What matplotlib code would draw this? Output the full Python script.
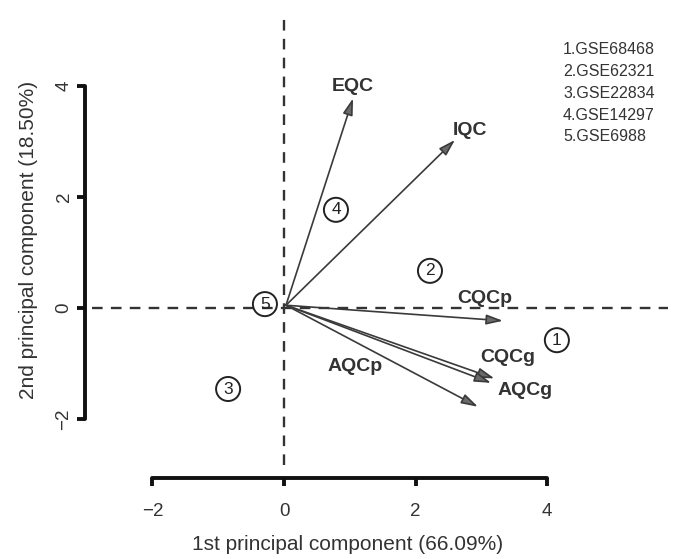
import matplotlib
matplotlib.use("Agg")
import matplotlib.pyplot as plt

plt.rcParams['font.family'] = ['Liberation Sans', 'DejaVu Sans']

# Loadings (arrows)
var_names = ["EQC", "IQC", "CQCp", "CQCg", "AQCg", "AQCp"]
var_x = [1.05, 2.60, 3.33, 3.20, 3.15, 2.95]
var_y = [3.78, 3.03, -0.23, -1.27, -1.35, -1.78]
label_x = [1.04, 2.83, 3.05, 3.40, 3.66, 1.08]
label_y = [4.00, 3.20, 0.18, -0.90, -1.48, -1.06]
origin = (0.03, 0.05)

# Datasets (scores)
obs_labels = ["1", "2", "3", "4", "5"]
obs_x = [4.15, 2.22, -0.85, 0.79, -0.29]
obs_y = [-0.58, 0.67, -1.46, 1.77, 0.07]
legend_lines = ["1.GSE68468", "2.GSE62321", "3.GSE22834", "4.GSE14297", "5.GSE6988"]

ticks = [-2, 0, 2, 4]

W, H = 676, 559
fig = plt.figure(figsize=(W / 100, H / 100), dpi=100)
ax = fig.add_axes([92 / W, 1 - 465 / H, (668 - 92) / W, (465 - 14) / H])
ax.set_xlim(-2.92, 5.84)
ax.set_ylim(-2.83, 5.30)

dark = '#222222'
ax.axhline(0, color='#333333', lw=1.7, ls=(0, (4.5, 3.5)), zorder=1)
ax.axvline(0, color='#333333', lw=1.7, ls=(0, (4.5, 3.5)), zorder=1)

for name, x, y, lx, ly in zip(var_names, var_x, var_y, label_x, label_y):
    ax.annotate("", xy=(x, y), xytext=origin,
                arrowprops=dict(arrowstyle='-|>,head_length=1.0,head_width=0.3',
                                ec='#3a3a3a', fc='#6a6a6a', lw=1.2,
                                shrinkA=0, shrinkB=0),
                zorder=3)
    ax.text(lx, ly, name, ha='center', va='center', fontsize=14,
            fontweight='bold', color='#333333', zorder=4)

ax.scatter(obs_x, obs_y, s=300, facecolors='none', edgecolors=dark,
           linewidths=1.4, zorder=4)
for t, x, y in zip(obs_labels, obs_x, obs_y):
    ax.text(x, y, t, ha='center', va='center', fontsize=12.5, color=dark, zorder=5)

for spine in ['top', 'right']:
    ax.spines[spine].set_visible(False)
ax.spines['bottom'].set_position(('outward', 9))
ax.spines['left'].set_position(('outward', 5))
ax.spines['bottom'].set_bounds(-2, 4)
ax.spines['left'].set_bounds(-2, 4)
for spine in ['bottom', 'left']:
    ax.spines[spine].set_linewidth(2.8)
    ax.spines[spine].set_color('#111111')
    ax.spines[spine].set_capstyle('round')
ax.set_xticks(ticks)
ax.set_yticks(ticks)
ax.set_xticklabels(["\u22122", "0", "2", "4"])
ax.set_yticklabels(["\u22122", "0", "2", "4"])
ax.tick_params(axis='x', length=6, width=2.8, color='#111111', pad=12,
               labelsize=13.5, labelcolor='#333333')
ax.tick_params(axis='y', length=6, width=2.8, color='#111111', pad=3,
               labelsize=13.5, labelcolor='#333333', labelrotation=90)
for lab in ax.get_yticklabels():
    lab.set_va('center')
    lab.set_ha('right')

fig.text(348 / W, 1 - 545 / H, "1st principal component (66.09%)",
         ha='center', va='center', fontsize=15, color='#333333')
fig.text(29 / W, 1 - 240 / H, "2nd principal component (18.50%)",
         ha='center', va='center', fontsize=15, color='#333333', rotation=90)

for i, line in enumerate(legend_lines):
    fig.text(563 / W, 1 - (49 + i * 22) / H, line, ha='left', va='center',
             fontsize=11.5, color='#333333')

fig.savefig("out.png", dpi=100)
